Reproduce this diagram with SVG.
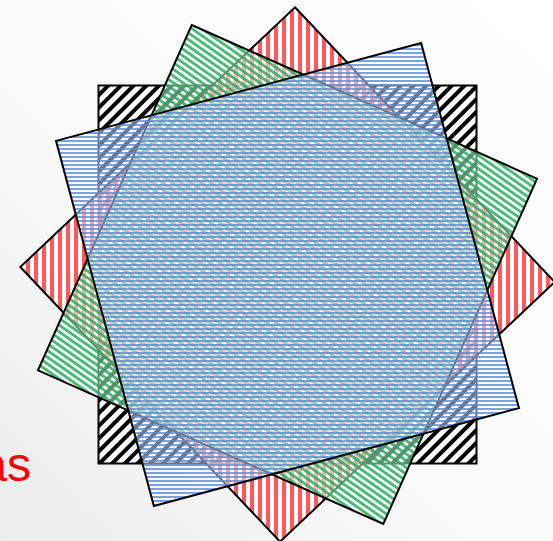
<svg xmlns="http://www.w3.org/2000/svg" width="553" height="541" viewBox="0 0 553 541">
  <defs>
    <linearGradient id="bg" x1="1" y1="0" x2="0" y2="1">
      <stop offset="0" stop-color="#ffffff"/>
      <stop offset="0.55" stop-color="#fafafa"/>
      <stop offset="1" stop-color="#ececec"/>
    </linearGradient>
    <pattern id="pBlack" patternUnits="userSpaceOnUse" width="9" height="9" patternTransform="rotate(45)">
      <rect x="0" y="0" width="9" height="9" fill="#ffffff"/>
      <rect x="0" y="0" width="4" height="9" fill="#000000"/>
    </pattern>
    <pattern id="pRed" patternUnits="userSpaceOnUse" width="8" height="8">
      <rect x="0" y="0" width="8" height="8" fill="#ffffff" opacity="0.5"/>
      <rect x="2" y="0" width="4" height="8" fill="#ff2a2a" opacity="0.78"/>
    </pattern>
    <pattern id="pGreen" patternUnits="userSpaceOnUse" width="5.5" height="5.5" patternTransform="rotate(35)">
      <rect x="0" y="0" width="5.5" height="5.5" fill="#ffffff" opacity="0.5"/>
      <rect x="0" y="0" width="5.5" height="2.8" fill="#1aae58" opacity="0.82"/>
    </pattern>
    <pattern id="pBlue" patternUnits="userSpaceOnUse" width="4" height="4">
      <rect x="0" y="0" width="4" height="4" fill="#ffffff" opacity="0.45"/>
      <rect x="0" y="0" width="4" height="2" fill="#5287dc" opacity="0.76"/>
    </pattern>
    <style>
      .sq { stroke: #000000; stroke-width: 2; stroke-linejoin: miter; }
      .lbl { font-family: "Liberation Sans", Arial, sans-serif; font-size: 48px; fill: #ff0000; }
    </style>
  </defs>

  <rect x="0" y="0" width="553" height="541" fill="url(#bg)"/>

  <g id="label">
    <text class="lbl" x="31" y="481" text-anchor="end">as</text>
  </g>

  <g id="square-black">
    <polygon class="sq" fill="url(#pBlack)" points="98.5,85.5 476.5,85.5 476.5,463.5 98.5,463.5"/>
  </g>
  <g id="square-red">
    <polygon class="sq" fill="url(#pRed)" points="294.97,7.31 554.69,281.97 280.03,541.69 20.31,267.03"/>
  </g>
  <g id="square-green">
    <polygon class="sq" fill="url(#pGreen)" points="191.71,24.98 537.02,178.71 383.29,524.02 37.98,370.29"/>
  </g>
  <g id="square-blue">
    <polygon class="sq" fill="url(#pBlue)" points="56.03,140.86 421.14,43.03 518.97,408.14 153.86,505.97"/>
  </g>
  <g id="connectors"/>
</svg>
